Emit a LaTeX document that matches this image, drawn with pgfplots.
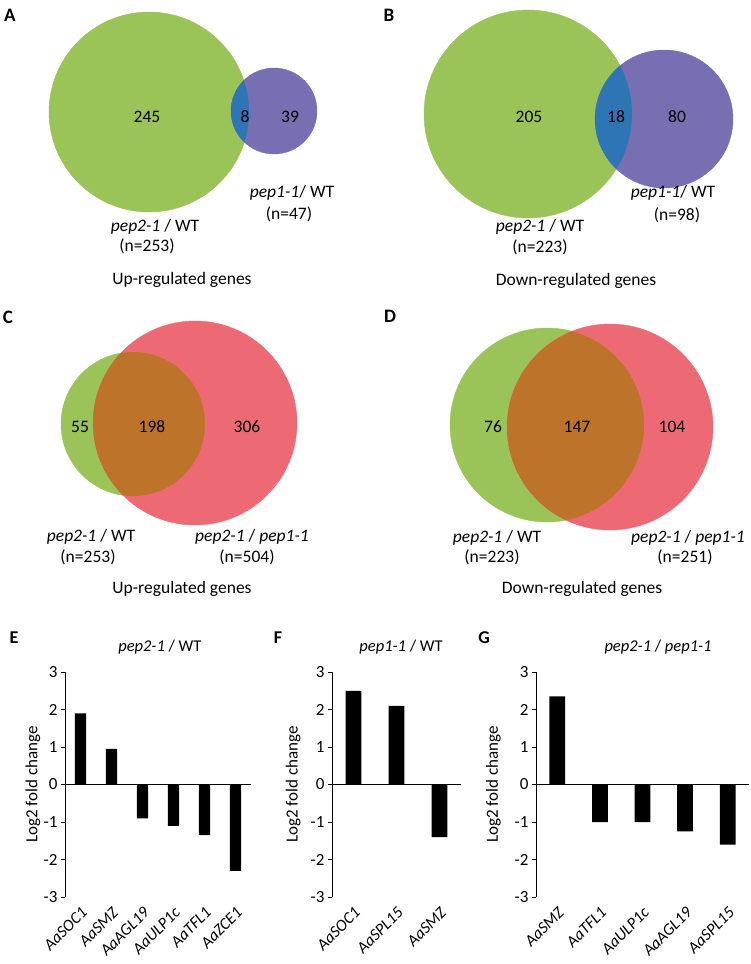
\documentclass[border=0pt]{standalone}
\usepackage{fontspec}
\setmainfont{Carlito}
\usepackage{pgfplots}
\pgfplotsset{compat=1.18}

\definecolor{vgreen}{RGB}{155,196,88}
\definecolor{vpurple}{RGB}{119,111,178}
\definecolor{vblue}{RGB}{46,117,182}
\definecolor{vred}{RGB}{237,106,117}
\definecolor{vbrown}{RGB}{189,115,42}

\tikzset{
  vt/.style={font=\fontsize{17.5}{21}\selectfont, inner sep=0pt},
  lt/.style={font=\fontsize{19}{22}\selectfont\bfseries, inner sep=0pt},
}
\pgfplotsset{
  page/.style={at={(0pt,0pt)}, anchor=north west, scale only axis,
    width=750pt, height=964pt, xmin=0, xmax=750, ymin=0, ymax=964,
    y dir=reverse, hide axis, clip=false},
  venn/.style={only marks, mark=*, mark options={draw=none}},
  bars/.style={
    ybar, scale only axis, height=225pt,
    ymin=-3, ymax=3, ytick={-3,...,3}, xmin=-0.5,
    axis y line*=left, axis x line*=bottom,
    x axis line style={draw=none}, xtick=data, xtick style={draw=none},
    y axis line style={line width=0.9pt},
    ytick align=outside, major tick length=4pt,
    ytick style={black, line width=0.9pt},
    extra y ticks={0}, extra y tick labels={},
    extra y tick style={grid=major, major grid style={black, line width=0.9pt}, tick style={draw=none}},
    bar width=0.37, enlargelimits=false,
    /pgf/number format/assume math mode=true,
    tick label style={font=\fontsize{17}{20}\selectfont},
    x tick label style={rotate=45, anchor=north east, font=\fontsize{16.5}{19}\selectfont\itshape},
    ylabel style={font=\fontsize{17}{20}\selectfont},
    title style={font=\fontsize{16.5}{19}\selectfont, anchor=center},
    ylabel={Log2 fold change},
  },
}

\begin{document}
\begin{tikzpicture}
\path[use as bounding box] (0pt,0pt) rectangle (750pt,-964pt);

% Venn circles, coordinates in pixels from the top left corner
\begin{axis}[page]
\addplot[venn, color=vgreen, mark size=100] coordinates {(149,112)};
\addplot[venn, color=vpurple, mark size=43] coordinates {(274,111)};
\addplot[venn, color=vgreen, mark size=104] coordinates {(528,114)};
\addplot[venn, color=vpurple, mark size=69] coordinates {(664,119)};
\addplot[venn, color=vgreen, mark size=72] coordinates {(133,424)};
\addplot[venn, color=vred, mark size=102] coordinates {(195,423)};
\addplot[venn, color=vgreen, mark size=97] coordinates {(547,425)};
\addplot[venn, color=vred, mark size=103] coordinates {(610,427)};
\end{axis}

% overlaps and texts
\begin{axis}[page]
\begin{scope}
\clip (axis cs:149,112) circle[radius=100pt];
\fill[vblue] (axis cs:274,111) circle[radius=43pt];
\end{scope}
\begin{scope}
\clip (axis cs:528,114) circle[radius=104pt];
\fill[vblue] (axis cs:664,119) circle[radius=69pt];
\end{scope}
\begin{scope}
\clip (axis cs:133,424) circle[radius=72pt];
\fill[vbrown] (axis cs:195,423) circle[radius=102pt];
\end{scope}
\begin{scope}
\clip (axis cs:547,425) circle[radius=97pt];
\fill[vbrown] (axis cs:610,427) circle[radius=103pt];
\end{scope}

\node[lt] at (axis cs:10,15) {A};
\node[lt] at (axis cs:389,15) {B};
\node[lt] at (axis cs:8,317) {C};
\node[lt] at (axis cs:390,316) {D};
\node[lt, font=\fontsize{18}{21}\selectfont\bfseries] at (axis cs:14,638) {E};
\node[lt, font=\fontsize{18}{21}\selectfont\bfseries] at (axis cs:278,638) {F};
\node[lt, font=\fontsize{18}{21}\selectfont\bfseries] at (axis cs:484,638) {G};

\node[vt] at (axis cs:147,117) {245};
\node[vt] at (axis cs:245,117) {8};
\node[vt] at (axis cs:290,117) {39};
\node[vt] at (axis cs:292,193) {\textit{pep1-1}/ WT};
\node[vt] at (axis cs:289,214) {(n=47)};
\node[vt] at (axis cs:155,227) {\textit{pep2-1} / WT};
\node[vt] at (axis cs:147,246) {(n=253)};
\node[vt] at (axis cs:182,280) {Up-regulated genes};

\node[vt] at (axis cs:529,117) {205};
\node[vt] at (axis cs:616,117) {18};
\node[vt] at (axis cs:677,117) {80};
\node[vt] at (axis cs:673,193) {\textit{pep1-1}/ WT};
\node[vt] at (axis cs:677,215) {(n=98)};
\node[vt] at (axis cs:540,227) {\textit{pep2-1} / WT};
\node[vt] at (axis cs:540,247) {(n=223)};
\node[vt] at (axis cs:576,281) {Down-regulated genes};

\node[vt] at (axis cs:80,427) {55};
\node[vt] at (axis cs:152,427) {198};
\node[vt] at (axis cs:247,427) {306};
\node[vt] at (axis cs:91,537) {\textit{pep2-1} / WT};
\node[vt] at (axis cs:88,557) {(n=253)};
\node[vt] at (axis cs:252,537) {\textit{pep2-1} / \textit{pep1-1}};
\node[vt] at (axis cs:247,557) {(n=504)};
\node[vt] at (axis cs:182,589) {Up-regulated genes};

\node[vt] at (axis cs:493,427) {76};
\node[vt] at (axis cs:577,427) {147};
\node[vt] at (axis cs:672,427) {104};
\node[vt] at (axis cs:497,538) {\textit{pep2-1} / WT};
\node[vt] at (axis cs:492,557) {(n=223)};
\node[vt] at (axis cs:688,538) {\textit{pep2-1} / \textit{pep1-1}};
\node[vt] at (axis cs:685,557) {(n=251)};
\node[vt] at (axis cs:582,589) {Down-regulated genes};
\end{axis}

% E
\begin{axis}[bars, at={(65pt,-897pt)}, anchor=south west, width=186pt,
  xmax=5.5,
  xticklabels={AaSOC1,AaSMZ,AaAGL19,AaULP1c,AaTFL1,AaZCE1},
  title={\textit{pep2-1} / WT},
  title style={at={(axis description cs:0.51,1.085)}},
  ylabel style={at={(axis description cs:-0.172,0.5)}, anchor=center}]
\addplot[fill=black, draw=none] coordinates {(0,1.9) (1,0.95) (2,-0.9) (3,-1.1) (4,-1.35) (5,-2.3)};
\end{axis}

% F
\begin{axis}[bars, at={(332pt,-897pt)}, anchor=south west, width=129pt,
  xmax=2.5,
  xticklabels={AaSOC1,AaSPL15,AaSMZ},
  title={\textit{pep1-1} / WT},
  title style={at={(axis description cs:0.535,1.085)}},
  ylabel style={at={(axis description cs:-0.30,0.5)}, anchor=center}]
\addplot[fill=black, draw=none] coordinates {(0,2.5) (1,2.1) (2,-1.4)};
\end{axis}

% G
\begin{axis}[bars, at={(536pt,-897pt)}, anchor=south west, width=213pt,
  xmax=4.5,
  xticklabels={AaSMZ,AaTFL1,AaULP1c,AaAGL19,AaSPL15},
  title={\textit{pep2-1} / \textit{pep1-1}},
  title style={at={(axis description cs:0.573,1.085)}},
  ylabel style={at={(axis description cs:-0.20,0.5)}, anchor=center}]
\addplot[fill=black, draw=none] coordinates {(0,2.35) (1,-1.0) (2,-1.0) (3,-1.25) (4,-1.6)};
\end{axis}
\end{tikzpicture}
\end{document}
